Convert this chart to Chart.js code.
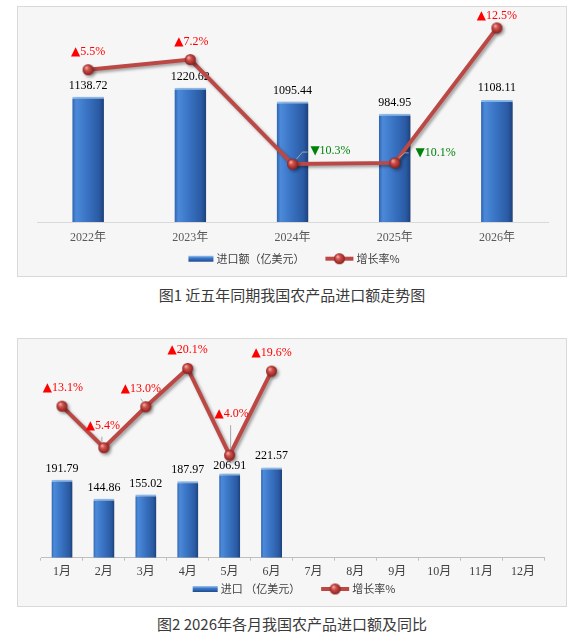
<!DOCTYPE html>
<html lang="zh-CN">
<head>
<meta charset="utf-8">
<script src="https://cdn.jsdelivr.net/npm/chart.js@4.4.1/dist/chart.umd.min.js"></script>
<style>
  html, body { margin: 0; padding: 0; background: #fff; }
  body { width: 581px; height: 641px; position: relative; overflow: hidden; }
  .box { position: absolute; left: 17px; width: 548px; border: 1px solid #d9d9d9; background: #f6f6f6; }
  #box1 { top: 6px; height: 269px; }
  #box2 { top: 338px; height: 267px; }
  .box canvas { display: block; }
  .cap { position: absolute; left: 0; width: 584px; text-align: center; color: #3a3a3a;
         font: 400 15px "Noto Sans CJK SC", "Noto Sans", sans-serif; line-height: 20px; }
  #cap1 { top: 285px; }
  #cap2 { top: 614px; }
</style>
</head>
<body>
<div class="box" id="box1"><canvas id="c1" width="548" height="269"></canvas></div>
<div class="cap" id="cap1">图1 近五年同期我国农产品进口额走势图</div>
<div class="box" id="box2"><canvas id="c2" width="548" height="267"></canvas></div>
<div class="cap" id="cap2">图2 2026年各月我国农产品进口额及同比</div>

<script>
// 图1 数据
const years = ['2022年', '2023年', '2024年', '2025年', '2026年'];
const yearImport = [1138.72, 1220.62, 1095.44, 984.95, 1108.11];
const yearGrowth = [5.5, 7.2, -10.3, -10.1, 12.5];

// 图2 数据
const months = ['1月', '2月', '3月', '4月', '5月', '6月', '7月', '8月', '9月', '10月', '11月', '12月'];
const monthImport = [191.79, 144.86, 155.02, 187.97, 206.91, 221.57];
const monthGrowth = [13.1, 5.4, 13.0, 20.1, 4.0, 19.6];

// 标签位置: 百分比标签偏移、引导线、柱标签上移量、图例位置
const labelSetup = {
  c1: {
    pct: [[0, -18], [1, -18], [38, -13], [41, -10], [0, -12]],
    leader: [null, null, [4, -5, 10, -12, 15, -12], [4, -5, 10, -10, 14, -10], null],
    barDy: [-11, -11, -11, -11, -12],
    legendY: 36.7
  },
  c2: {
    pct: [[1, -18], [-1, -22], [-5, -18], [0, -19], [2, -41], [0, -18]],
    leader: [null, [-2, -6, -2, -11], [-3, -5, -5, -8], null, [1, -6, 1, -30], null],
    barDy: [-11, -11, -11, -11, -7.5, -12],
    legendY: 31.3
  }
};

const serif = '"Liberation Serif", "Noto Sans CJK SC", serif';
const lineColor = '#bb4845';

function makeSphere(r) {
  const c = document.createElement('canvas');
  const s = Math.ceil(r * 2 + 2);
  c.width = s; c.height = s;
  const g = c.getContext('2d');
  const grd = g.createRadialGradient(s / 2 - r * 0.35, s / 2 - r * 0.4, r * 0.1, s / 2, s / 2, r);
  grd.addColorStop(0, '#f4a6a2');
  grd.addColorStop(0.35, '#d0514c');
  grd.addColorStop(1, '#8a1f1c');
  g.fillStyle = grd;
  g.beginPath(); g.arc(s / 2, s / 2, r, 0, Math.PI * 2); g.fill();
  return c;
}
const sphere = makeSphere(5.5);

function barFill(pct) {
  return (ctx) => {
    const chart = ctx.chart;
    const area = chart.chartArea;
    if (!area || ctx.type !== 'data') return '#3a72c4';
    const x = chart.scales.x.getPixelForValue(ctx.dataIndex);
    const half = area.width / chart.data.labels.length * pct / 2;
    const g = chart.ctx.createLinearGradient(x - half, 0, x + half, 0);
    g.addColorStop(0, '#2e62ae');
    g.addColorStop(0.12, '#4c8ad9');
    g.addColorStop(0.45, '#3a74c4');
    g.addColorStop(0.85, '#2a5aa3');
    g.addColorStop(1, '#1c417c');
    return g;
  };
}

// 阴影 + 柱子数值标签
const shadows = {
  id: 'shadows',
  beforeDatasetDraw(chart, args) {
    const c = chart.ctx;
    c.save();
    c.shadowColor = 'rgba(0,0,0,0.35)';
    if (args.meta.type === 'bar') {
      c.shadowOffsetX = 3; c.shadowOffsetY = 1; c.shadowBlur = 4;
    } else {
      c.shadowOffsetX = 2; c.shadowOffsetY = 2; c.shadowBlur = 3;
    }
  },
  afterDatasetDraw(chart, args) {
    const c = chart.ctx;
    c.restore();
    if (args.meta.type !== 'bar') return;
    const set = labelSetup[chart.canvas.id];
    const values = chart.data.datasets[args.index].data;
    c.save();
    c.font = '12px ' + serif;
    c.fillStyle = '#000';
    c.textAlign = 'center';
    c.textBaseline = 'middle';
    args.meta.data.forEach((el, i) => {
      c.fillText(values[i].toFixed(2), el.x, el.y + set.barDy[i]);
    });
    c.restore();
  }
};

// 增长率标签
const pctLabels = {
  id: 'pctLabels',
  afterDatasetsDraw(chart) {
    const set = labelSetup[chart.canvas.id];
    const meta = chart.getDatasetMeta(1);
    const values = chart.data.datasets[1].data;
    const c = chart.ctx;
    const triFont = '12px "DejaVu Sans", sans-serif';
    const numFont = '12px ' + serif;
    c.save();
    c.textAlign = 'left';
    c.textBaseline = 'middle';
    meta.data.forEach((pt, i) => {
      const v = values[i];
      const ld = set.leader[i];
      if (ld) {
        c.strokeStyle = '#a6a6a6';
        c.lineWidth = 1;
        c.beginPath();
        c.moveTo(pt.x + ld[0], pt.y + ld[1]);
        for (let k = 2; k < ld.length; k += 2) c.lineTo(pt.x + ld[k], pt.y + ld[k + 1]);
        c.stroke();
      }
      const [dx, dy] = set.pct[i];
      const tri = v >= 0 ? '▲' : '▼';
      const num = Math.abs(v).toFixed(1) + '%';
      c.font = triFont;
      const w1 = c.measureText(tri).width;
      c.font = numFont;
      const w2 = c.measureText(num).width;
      const x0 = pt.x + dx - (w1 + w2) / 2;
      const y0 = pt.y + dy;
      c.fillStyle = v >= 0 ? '#ff0000' : '#00820a';
      c.font = triFont;
      c.fillText(tri, x0, y0);
      c.font = numFont;
      c.fillText(num, x0 + w1, y0);
    });
    c.restore();
  }
};

// 图例
const boxLegend = {
  id: 'boxLegend',
  afterDraw(chart) {
    const set = labelSetup[chart.canvas.id];
    const c = chart.ctx;
    const ds = chart.data.datasets;
    const y = chart.chartArea.bottom + set.legendY;
    c.save();
    c.font = '11px "Noto Sans CJK SC", sans-serif';
    c.textBaseline = 'middle';
    const t0 = c.measureText(ds[0].label).width;
    const t1 = c.measureText(ds[1].label).width;
    const total = 25 + 3 + t0 + 21 + 28 + 3 + t1;
    let x = 276 - total / 2;
    const g = c.createLinearGradient(0, y - 3, 0, y + 3);
    g.addColorStop(0, '#9cc8f5');
    g.addColorStop(0.4, '#3d78c8');
    g.addColorStop(1, '#1f4a8f');
    c.fillStyle = g;
    c.fillRect(x, y - 3, 25, 6);
    x += 28;
    c.fillStyle = '#404040';
    c.fillText(ds[0].label, x, y);
    x += t0 + 21;
    c.strokeStyle = lineColor;
    c.lineWidth = 4;
    c.beginPath(); c.moveTo(x, y); c.lineTo(x + 28, y); c.stroke();
    c.drawImage(sphere, x + 14 - sphere.width / 2, y - sphere.height / 2);
    x += 31;
    c.fillStyle = '#404040';
    c.fillText(ds[1].label, x, y);
    c.restore();
  }
};

function makeChart(id, labels, imports, growth, cfg) {
  return new Chart(document.getElementById(id), {
    data: {
      labels: labels,
      datasets: [
        {
          type: 'bar',
          label: cfg.barLabel,
          data: imports,
          yAxisID: 'y',
          order: 1,
          backgroundColor: barFill(cfg.barPct),
          borderColor: '#8ec0f4',
          borderWidth: { top: 2, left: 0, right: 0, bottom: 0 },
          barPercentage: cfg.barPct,
          categoryPercentage: 1
        },
        {
          type: 'line',
          label: '增长率%',
          data: growth,
          yAxisID: 'y1',
          order: 0,
          borderColor: lineColor,
          borderWidth: 4,
          pointStyle: sphere,
          pointRadius: 6,
          pointHoverRadius: 6,
          tension: 0,
          clip: false
        }
      ]
    },
    options: {
      responsive: false,
      animation: false,
      layout: { padding: cfg.padding, autoPadding: false },
      plugins: { legend: { display: false }, tooltip: { enabled: false } },
      scales: {
        x: {
          grid: cfg.grid,
          border: { display: true, color: cfg.axisColor },
          ticks: { color: cfg.tickColor, padding: cfg.tickPad, font: { family: serif, size: 12 } },
          afterFit: (s) => { s.height = cfg.axisH; }
        },
        y: { display: false, min: 0, max: cfg.yMax },
        y1: { display: false, min: cfg.pMin, max: cfg.pMax }
      }
    },
    plugins: [shadows, pctLabels, boxLegend]
  });
}

// 图区: 上 6, 下 215 (画布坐标)
makeChart('c1', years, yearImport, yearGrowth, {
  barLabel: '进口额（亿美元）',
  barPct: 0.31,
  padding: { left: 19, right: 18, top: 6, bottom: 24 },
  axisH: 30,
  grid: { display: false, drawTicks: false },
  axisColor: '#d9d9d9',
  tickColor: '#595959',
  tickPad: 9,
  yMax: 1900, pMin: -20, pMax: 15
});

// 图区: 上 3, 下 218.7
makeChart('c2', months, monthImport, monthGrowth, {
  barLabel: '进口 （亿美元）',
  barPct: 0.5,
  padding: { left: 23, right: 22, top: 3, bottom: 18.3 },
  axisH: 30,
  grid: { display: true, drawOnChartArea: false, drawTicks: true, tickLength: 3, color: '#bfbfbf', offset: true },
  axisColor: '#bfbfbf',
  tickColor: '#404040',
  tickPad: 4,
  yMax: 530, pMin: -15, pMax: 25
});
</script>
</body>
</html>
